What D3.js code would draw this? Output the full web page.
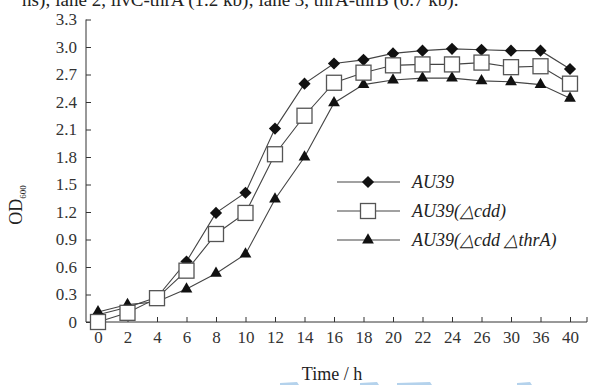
<!DOCTYPE html>
<html>
<head>
<meta charset="utf-8">
<script src="https://cdn.jsdelivr.net/npm/d3@7"></script>
<style>
  body { margin: 0; background: #fff; }
  svg { display: block; }
  svg text { font-family: 'Liberation Serif', 'Times New Roman', Times, serif; }
  .axis path, .axis line { stroke: #333; }
  .axis text { fill: #333; font-size: 17px; }
</style>
</head>
<body>
<svg id="chart" width="592" height="385"></svg>
<script>
const hours = ['0', '2', '4', '6', '8', '10', '12', '14', '16', '18', '20', '22', '24', '26', '30', '36', '40']
const au39 = [0.08, 0.16, 0.27, 0.66, 1.19, 1.41, 2.11, 2.60, 2.82, 2.86, 2.93, 2.96, 2.98, 2.97, 2.96, 2.96, 2.76]
const au39Cdd = [0.00, 0.10, 0.26, 0.56, 0.96, 1.19, 1.83, 2.25, 2.61, 2.72, 2.80, 2.81, 2.81, 2.83, 2.78, 2.79, 2.60]
const au39CddThrA = [0.11, 0.19, 0.22, 0.36, 0.53, 0.74, 1.34, 1.80, 2.39, 2.59, 2.64, 2.66, 2.66, 2.63, 2.62, 2.59, 2.44]
const yTicks = [0, 0.3, 0.6, 0.9, 1.2, 1.5, 1.8, 2.1, 2.4, 2.7, 3.0, 3.3]
const seriesNames = ['AU39', 'AU39(\u25b3cdd)', 'AU39(\u25b3cdd \u25b3thrA)']

const svg = d3.select('#chart')
const serif = "'Liberation Serif', 'Times New Roman', Times, serif"
const axisLeftX = 86
const axisRightX = 587
const x = d3.scalePoint().domain(hours).range([98, 570])
const y = d3.scaleLinear().domain([0, 3.3]).range([322, 19.5])

// caption line, cut by the top edge like in the scan
svg.append('text')
  .attr('x', 22).attr('y', 6)
  .attr('font-size', 19).attr('fill', '#222')
  .text('ns); lane 2, ilvC-thrA (1.2 kb); lane 3, thrA-thrB (0.7 kb).')

// axes
const xAxis = d3.axisBottom(x).tickSize(-5).tickSizeOuter(0).tickPadding(9)
const gx = svg.append('g').attr('class', 'axis').attr('transform', `translate(0,${y(0)})`).call(xAxis)
  .attr('font-family', serif)
gx.select('.domain').attr('d', `M${axisLeftX},0H${axisRightX}V-5`)

const yAxis = d3.axisLeft(y).tickValues(yTicks).tickSize(-5).tickSizeOuter(0).tickPadding(9)
  .tickFormat((d) => (d === 0 ? '0' : d3.format('.1f')(d)))
const gy = svg.append('g').attr('class', 'axis').attr('transform', `translate(${axisLeftX},0)`).call(yAxis)
  .attr('font-family', serif)
gy.select('.domain').attr('d', `M0,${y(0)}V${y(3.3)}`)

// axis titles
svg.append('text')
  .attr('x', 332).attr('y', 380)
  .attr('text-anchor', 'middle').attr('font-size', 18).attr('fill', '#222')
  .text('Time / h')

const yl = svg.append('text')
  .attr('transform', 'translate(22,205) rotate(-90)')
  .attr('text-anchor', 'middle').attr('font-size', 18).attr('fill', '#222')
yl.append('tspan').text('OD')
yl.append('tspan').attr('font-size', 9).attr('dy', 4).text('600')

// series
const line = d3.line().x((d, i) => x(hours[i])).y((d) => y(d))
const series = [
  { name: seriesNames[2], values: au39CddThrA, mark: 'tri' },
  { name: seriesNames[0], values: au39, mark: 'dia' },
  { name: seriesNames[1], values: au39Cdd, mark: 'sq' },
]

function marker(g, type, cx, cy) {
  if (type === 'dia') {
    g.append('path').attr('d', d3.symbol(d3.symbolDiamond2, 95)())
      .attr('transform', `translate(${cx},${cy})`).attr('fill', '#111')
  } else if (type === 'tri') {
    g.append('path').attr('d', d3.symbol(d3.symbolTriangle, 60)())
      .attr('transform', `translate(${cx},${cy})`).attr('fill', '#111')
  } else {
    g.append('rect').attr('x', cx - 7.5).attr('y', cy - 7.5).attr('width', 15).attr('height', 15)
      .attr('fill', '#fff').attr('stroke', '#555').attr('stroke-width', 1.3)
  }
}

series.forEach((s) => {
  svg.append('path').datum(s.values).attr('d', line)
    .attr('fill', 'none').attr('stroke', '#444').attr('stroke-width', 1.1)
})
series.forEach((s) => {
  const g = svg.append('g')
  s.values.forEach((v, i) => marker(g, s.mark, x(hours[i]), y(v)))
})

// legend
const legend = svg.append('g')
const legendOrder = [
  { name: seriesNames[0], mark: 'dia' },
  { name: seriesNames[1], mark: 'sq' },
  { name: seriesNames[2], mark: 'tri' },
]
legendOrder.forEach((d, i) => {
  const ly = 182 + i * 29
  legend.append('line').attr('x1', 337).attr('x2', 400).attr('y1', ly).attr('y2', ly)
    .attr('stroke', '#444').attr('stroke-width', 1.1)
  marker(legend, d.mark, 368, ly)
  legend.append('text').attr('x', 412).attr('y', ly + 6)
    .attr('font-size', 18).attr('font-style', 'italic').attr('fill', '#222')
    .text(d.name)
})

// watermark slivers at the bottom edge
const wm = svg.append('g').attr('fill', '#b4d2ec')
;[[280, 297], [360, 377], [397, 430], [517, 530]].forEach(([a, b]) => {
  wm.append('path').attr('d', `M${a},383L${b},382L${b + 2},385L${a},385Z`)
})
</script>
</body>
</html>
